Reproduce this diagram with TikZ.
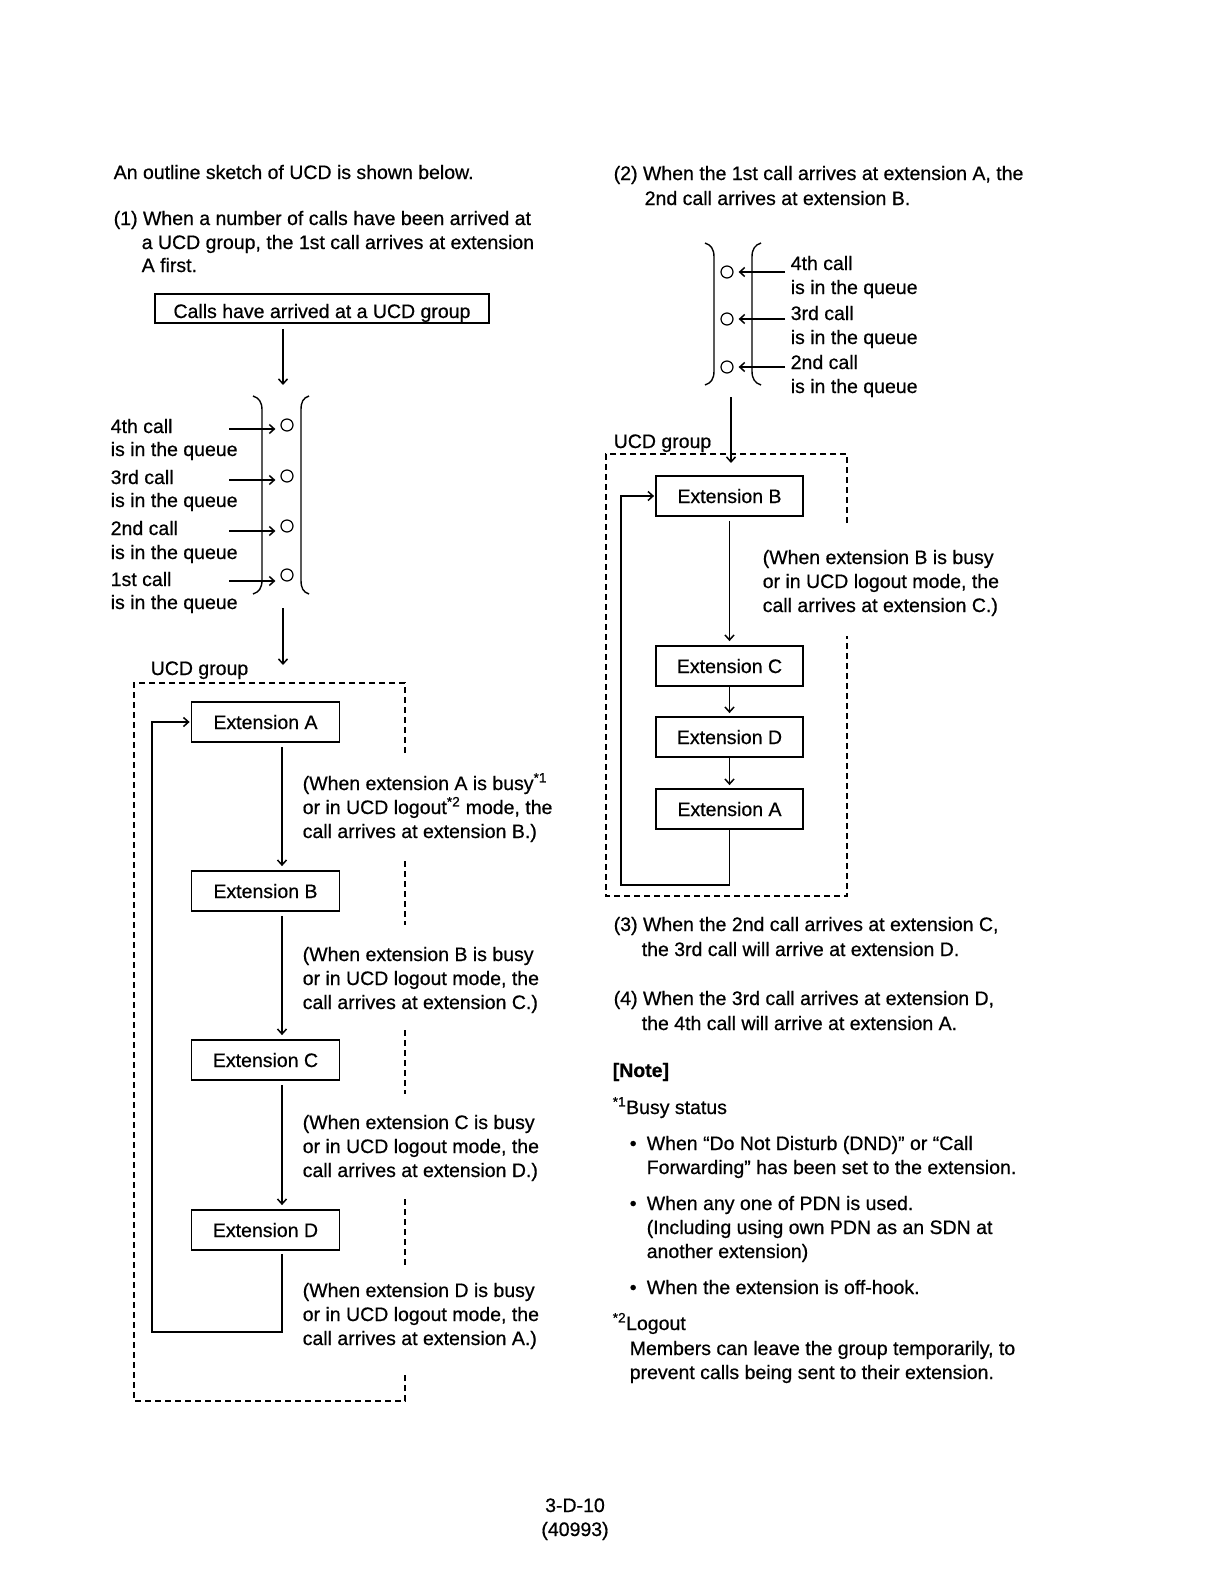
\documentclass[tikz,border=0pt]{standalone}
\usepackage{fontspec}
\setmainfont{Liberation Sans}[FakeBold=0.6]
\usetikzlibrary{arrows.meta}
\begin{document}
\begin{tikzpicture}[x=1pt,y=-1pt,
  font=\fontsize{19.5}{24}\selectfont,
  line width=1.5pt,
  >={Straight Barb[length=5pt,width=9pt]},
  txt/.style={anchor=base west,inner sep=0pt},
  ctxt/.style={anchor=base,inner sep=0pt},
  extbox/.style={draw,line width=1.8pt,minimum width=148pt,minimum height=40pt,inner sep=0pt,text height=14pt,text depth=0pt},
  qcirc/.style={draw,circle,line width=1.2pt,minimum size=12pt,inner sep=0pt},
  grp/.style={line width=1.6pt,dash pattern=on 6pt off 4pt},
  flow/.style={->,shorten <=4pt,shorten >=4pt},
  brk/.style={line width=1.4pt}
]
\useasboundingbox (0,0) rectangle (1221,1584);
\fill[white] (0,0) rectangle (1221,1584);

% ---------------- left column ----------------
\node[txt] (intro) at (113,179) {An outline sketch of UCD is shown below.};
\node[txt] (p1a) at (113,225) {(1) When a number of calls have been arrived at};
\node[txt] (p1b) at (141,249) {a UCD group, the 1st call arrives at extension};
\node[txt] (p1c) at (141,272) {A first.};

\node[draw,line width=1.5pt,minimum width=334pt,minimum height=29pt,inner sep=0pt,text height=19pt,text depth=0pt] (start) at (322,308.5) {Calls have arrived at a UCD group};

\coordinate (Lin) at (283,385);
\draw[->,shorten <=5pt] (start.south -| Lin) -- (Lin);

% brackets
\draw[brk] (253,396) .. controls (259,398) and (262,402) .. (262,410) -- (262,580) .. controls (262,588) and (259,592) .. (253,594);
\draw[brk] (309,396) .. controls (303,398) and (301,402) .. (301,410) -- (301,580) .. controls (301,588) and (303,592) .. (309,594);

\node[qcirc] (L4) at (287,425) {};
\node[qcirc] (L3) at (287,476) {};
\node[qcirc] (L2) at (287,526) {};
\node[qcirc] (L1) at (287,575) {};
\coordinate (L4s) at (229,429);
\coordinate (L3s) at (229,480);
\coordinate (L2s) at (229,531);
\coordinate (L1s) at (229,581);
\draw[->,shorten >=5pt] (L4s) -- (L4s -| L4.west);
\draw[->,shorten >=5pt] (L3s) -- (L3s -| L3.west);
\draw[->,shorten >=5pt] (L2s) -- (L2s -| L2.west);
\draw[->,shorten >=5pt] (L1s) -- (L1s -| L1.west);

\node[txt] (q4a) at (110,433) {4th call};
\node[txt] (q4b) at (110,456) {is in the queue};
\node[txt] (q3a) at (110,484) {3rd call};
\node[txt] (q3b) at (110,507) {is in the queue};
\node[txt] (q2a) at (110,535) {2nd call};
\node[txt] (q2b) at (110,559) {is in the queue};
\node[txt] (q1a) at (110,586) {1st call};
\node[txt] (q1b) at (110,609) {is in the queue};

\coordinate (Lout) at (283,608);
\coordinate (Lgrp) at (283,665);
\draw[->] (Lout) -- (Lgrp);
\node[txt] (ugL) at (150,675) {UCD group};

% dashed group box
\draw[grp] (405,753) -- (405,683) -- (134,683) -- (134,1401) -- (405,1401) -- (405,1372);
\draw[grp] (405,861) -- (405,925);
\draw[grp] (405,1030) -- (405,1094);
\draw[grp] (405,1199) -- (405,1265);

\node[extbox] (LA) at (265.5,722) {Extension A};
\node[extbox] (LB) at (265.5,891) {Extension B};
\node[extbox] (LC) at (265.5,1060) {Extension C};
\node[extbox] (LD) at (265.5,1230) {Extension D};
\coordinate (Lcol) at (282,0);
\draw[flow] (LA.south -| Lcol) -- (LB.north -| Lcol);
\draw[flow] (LB.south -| Lcol) -- (LC.north -| Lcol);
\draw[flow] (LC.south -| Lcol) -- (LD.north -| Lcol);
\coordinate (Lret) at (152,1332);
\draw[->,shorten <=3pt,shorten >=1pt] (LD.south -| Lcol) |- (Lret) |- (LA.west);

\node[txt] (ta1) at (302,790) {(When extension A is busy\textsuperscript{*1}};
\node[txt] (ta2) at (302,814) {or in UCD logout\textsuperscript{*2} mode, the};
\node[txt] (ta3) at (302,838) {call arrives at extension B.)};
\node[txt] (tb1) at (302,961) {(When extension B is busy};
\node[txt] (tb2) at (302,985) {or in UCD logout mode, the};
\node[txt] (tb3) at (302,1009) {call arrives at extension C.)};
\node[txt] (tc1) at (302,1129) {(When extension C is busy};
\node[txt] (tc2) at (302,1153) {or in UCD logout mode, the};
\node[txt] (tc3) at (302,1177) {call arrives at extension D.)};
\node[txt] (td1) at (302,1297) {(When extension D is busy};
\node[txt] (td2) at (302,1321) {or in UCD logout mode, the};
\node[txt] (td3) at (302,1345) {call arrives at extension A.)};

% ---------------- right column ----------------
\node[txt] (p2a) at (613,180) {(2) When the 1st call arrives at extension A, the};
\node[txt] (p2b) at (644,205) {2nd call arrives at extension B.};

\draw[brk] (705,243) .. controls (711,245) and (714,249) .. (714,257) -- (714,371) .. controls (714,379) and (711,383) .. (705,385);
\draw[brk] (761,243) .. controls (755,245) and (752,249) .. (752,257) -- (752,371) .. controls (752,379) and (755,383) .. (761,385);

\node[qcirc] (R4) at (727,272) {};
\node[qcirc] (R3) at (727,319) {};
\node[qcirc] (R2) at (727,367) {};
\coordinate (R4s) at (785,272);
\coordinate (R3s) at (785,319);
\coordinate (R2s) at (785,367);
\draw[->,shorten >=5pt] (R4s) -- (R4s -| R4.east);
\draw[->,shorten >=5pt] (R3s) -- (R3s -| R3.east);
\draw[->,shorten >=5pt] (R2s) -- (R2s -| R2.east);

\node[txt] (r4a) at (790,270) {4th call};
\node[txt] (r4b) at (790,294) {is in the queue};
\node[txt] (r3a) at (790,320) {3rd call};
\node[txt] (r3b) at (790,344) {is in the queue};
\node[txt] (r2a) at (790,369) {2nd call};
\node[txt] (r2b) at (790,393) {is in the queue};

\coordinate (Rout) at (731,397);
\coordinate (Rin) at (731,463);
\draw[->] (Rout) -- (Rin);
\node[txt] (ugR) at (613,448) {UCD group};

\draw[grp] (847,523) -- (847,454) -- (606,454) -- (606,896) -- (847,896) -- (847,636);

\node[extbox,minimum width=147pt] (RB) at (729.5,496) {Extension B};
\node[extbox,minimum width=147pt] (RC) at (729.5,666) {Extension C};
\node[extbox,minimum width=147pt] (RD) at (729.5,737) {Extension D};
\node[extbox,minimum width=147pt] (RA) at (729.5,809) {Extension A};
\draw[flow] (RB) -- (RC);
\draw[->,shorten >=3pt] (RC) -- (RD);
\draw[->,shorten >=3pt] (RD) -- (RA);
\coordinate (Rret) at (621,885);
\draw[->,shorten >=1pt] (RA.south) |- (Rret) |- (RB.west);

\node[txt] (tr1) at (762,564) {(When extension B is busy};
\node[txt] (tr2) at (762,588) {or in UCD logout mode, the};
\node[txt] (tr3) at (762,612) {call arrives at extension C.)};

\node[txt] (p3a) at (613,931) {(3) When the 2nd call arrives at extension C,};
\node[txt] (p3b) at (641,956) {the 3rd call will arrive at extension D.};
\node[txt] (p4a) at (613,1005) {(4) When the 3rd call arrives at extension D,};
\node[txt] (p4b) at (641,1030) {the 4th call will arrive at extension A.};

\node[txt] (note) at (612,1077) {\bfseries [Note]};
\node[txt] (n1) at (612,1114) {\textsuperscript{*1}Busy status};
\node[txt] (b1) at (629,1150) {•};
\node[txt] (n1a) at (646,1150) {When “Do Not Disturb (DND)” or “Call};
\node[txt] (n1b) at (646,1174) {Forwarding” has been set to the extension.};
\node[txt] (b2) at (629,1210) {•};
\node[txt] (n2a) at (646,1210) {When any one of PDN is used.};
\node[txt] (n2b) at (646,1234) {(Including using own PDN as an SDN at};
\node[txt] (n2c) at (646,1258) {another extension)};
\node[txt] (b3) at (629,1294) {•};
\node[txt] (n3a) at (646,1294) {When the extension is off-hook.};
\node[txt] (n4) at (612,1330) {\textsuperscript{*2}Logout};
\node[txt] (n4a) at (629,1355) {Members can leave the group temporarily, to};
\node[txt] (n4b) at (629,1379) {prevent calls being sent to their extension.};

% footer
\node[ctxt] (pg) at (575,1512) {3-D-10};
\node[ctxt] (doc) at (575,1536) {(40993)};
\end{tikzpicture}
\end{document}
